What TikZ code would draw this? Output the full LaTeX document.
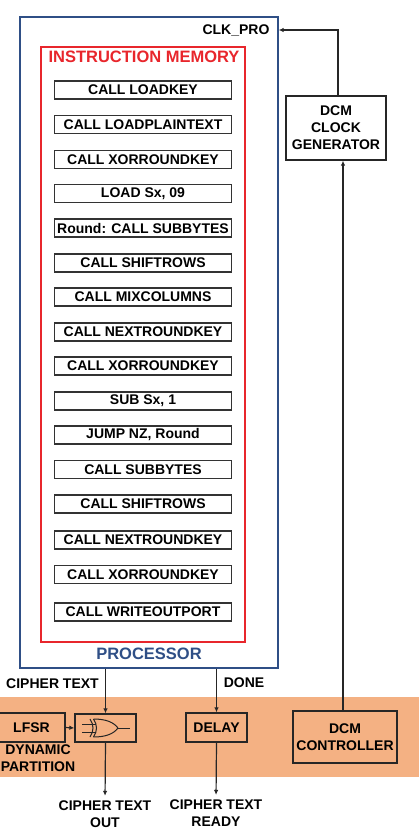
\documentclass[tikz,border=0pt]{standalone}
\usepackage{fontspec}
\setmainfont{Liberation Sans}
\usetikzlibrary{arrows.meta}
\definecolor{procblue}{HTML}{2F4F86}
\definecolor{memred}{HTML}{E8262C}
\definecolor{band}{HTML}{F4B183}
\begin{document}
\begin{tikzpicture}[x=1pt,y=-1pt,
  lbl/.style={font=\bfseries\fontsize{14}{17}\selectfont, inner sep=0pt, align=center},
  instr/.style={lbl, draw=black!80, line width=1.5pt, minimum width=177pt, minimum height=18pt},
  blk/.style={lbl, draw=black!85, line width=1.3pt},
  arr/.style={-{Latex[length=5pt,width=4.5pt]}, line width=1.2pt, draw=black!85}]
\useasboundingbox (0,0) rectangle (419,838);
\fill[band] (0,697) rectangle (419,777);
% processor and memory
\node[draw=procblue, line width=1.3pt, minimum width=258pt, minimum height=651pt, inner sep=0pt] (proc) at (149,342.5) {};
\node[draw=memred, line width=1.3pt, minimum width=204pt, minimum height=595pt, inner sep=0pt] (mem) at (143,344.5) {};
\node[lbl, text=memred, font=\bfseries\fontsize{16.5}{19}\selectfont] (memlbl) at (144,57) {INSTRUCTION MEMORY};
\node[lbl, text=procblue, font=\bfseries\fontsize{16.5}{19}\selectfont] (proclbl) at (149,654) {PROCESSOR};
% instructions
\node[instr] (i1) at (143,90) {CALL LOADKEY};
\node[instr] (i2) at (143,124.5) {CALL LOADPLAINTEXT};
\node[instr] (i3) at (143,159.5) {CALL XORROUNDKEY};
\node[instr] (i4) at (143,193.5) {LOAD Sx, 09};
\node[instr] (i5) at (143,228) {Round: CALL SUBBYTES};
\node[instr] (i6) at (143,263) {CALL SHIFTROWS};
\node[instr] (i7) at (143,297) {CALL MIXCOLUMNS};
\node[instr] (i8) at (143,332) {CALL NEXTROUNDKEY};
\node[instr] (i9) at (143,366) {CALL XORROUNDKEY};
\node[instr] (i10) at (143,401) {SUB Sx, 1};
\node[instr] (i11) at (143,435) {JUMP NZ, Round};
\node[instr] (i12) at (143,469.5) {CALL SUBBYTES};
\node[instr] (i13) at (143,504) {CALL SHIFTROWS};
\node[instr] (i14) at (143,540) {CALL NEXTROUNDKEY};
\node[instr] (i15) at (143,574.5) {CALL XORROUNDKEY};
\node[instr] (i16) at (143,612) {CALL WRITEOUTPORT};
% clock
\node[lbl] (clkpro) at (236,30) {CLK\_PRO};
\node[blk, minimum width=100pt, minimum height=64pt] (clk) at (336,128) {DCM\\CLOCK\\GENERATOR};
\draw[arr] ([xshift=2pt]clk.north) |- (clkpro -| proc.east);
% bottom blocks
\node[blk, minimum width=67pt, minimum height=29pt] (lfsr) at (31.5,727.5) {LFSR};
\node[lbl] (dyn) at (38,758) {DYNAMIC\\PARTITION};
\node[blk, minimum width=61pt, minimum height=28pt] (xor) at (105.5,728) {};
\node[blk, minimum width=61pt, minimum height=29pt] (delay) at (216.5,727.5) {DELAY};
\node[blk, minimum width=104pt, minimum height=52pt] (ctrl) at (345,737) {DCM\\CONTROLLER};
\draw[arr] ([xshift=-2pt]ctrl.north) -- ([xshift=-2pt]ctrl.north |- clk.south);
% xor gate
\begin{scope}[shift={(xor.center)}, line width=1pt, draw=black!85]
  \draw (-23.5,-4) -- (-9.5,-4);
  \draw (-23.5,4) -- (-9.5,4);
  \draw (-12,-9) .. controls (-8,-3) and (-8,3) .. (-12,9);
  \draw (-15.5,-9) .. controls (-11.5,-3) and (-11.5,3) .. (-15.5,9);
  \draw (-12,-9) .. controls (0,-9) and (8,-6) .. (12.5,0);
  \draw (-12,9) .. controls (0,9) and (8,6) .. (12.5,0);
  \draw (12.5,0) -- (24.5,0);
\end{scope}
% signals
\node[lbl] (ctlbl) at (52.5,684) {CIPHER TEXT};
\node[lbl] (donelbl) at (244,683) {DONE};
\node[lbl] (outlbl) at (105,814.5) {CIPHER TEXT\\OUT};
\node[lbl] (rdylbl) at (216,813.5) {CIPHER TEXT\\READY};
\draw[arr] (proc.south -| xor.north) -- (xor.north);
\draw[arr] (proc.south -| delay.north) -- (delay.north);
\draw[arr] (lfsr.east) -- (xor.west);
\draw[arr, shorten >=5pt] (xor.south) -- (outlbl.north);
\draw[arr, shorten >=5pt] (delay.south) -- (rdylbl.north);
\end{tikzpicture}
\end{document}
